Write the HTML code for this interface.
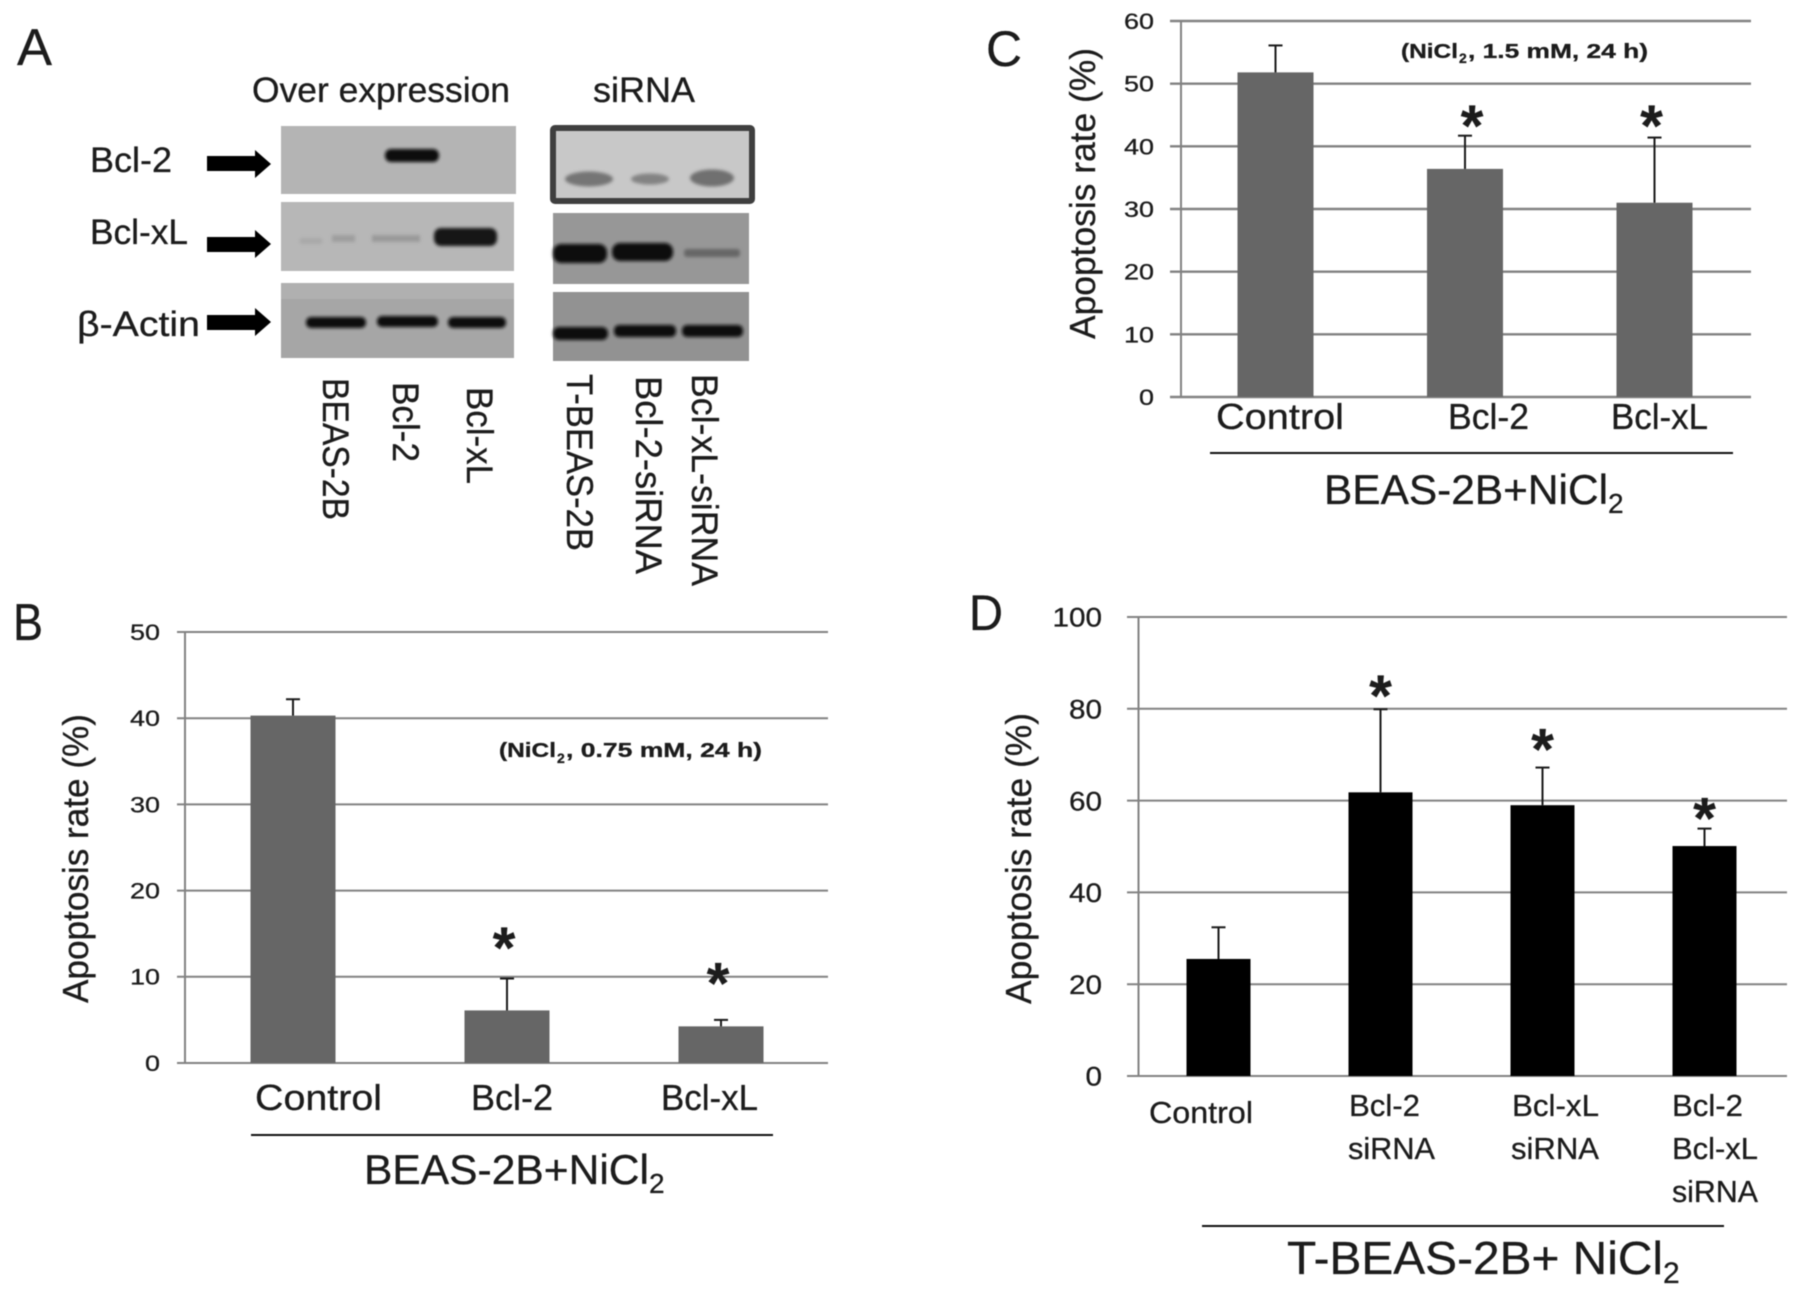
<!DOCTYPE html>
<html lang="en">
<head>
<meta charset="utf-8">
<title>Apoptosis rate and Bcl-2 / Bcl-xL expression</title>
<style>
html,body{margin:0;padding:0;background:#fff;width:1795px;height:1294px;overflow:hidden}
svg{display:block;filter:blur(.5px)}
text{font-family:"Liberation Sans",Arial,sans-serif;fill:#1c1c1c;stroke:#1c1c1c;stroke-width:.3px}
</style>
</head>
<body>
<svg id="figure" xmlns="http://www.w3.org/2000/svg" width="1795" height="1294" viewBox="0 0 1795 1294">
<defs>
<filter id="b3" x="-30%" y="-80%" width="160%" height="260%"><feGaussianBlur stdDeviation="2.6"/></filter>
<filter id="b1" x="-30%" y="-80%" width="160%" height="260%"><feGaussianBlur stdDeviation="1.5"/></filter>
</defs>
<rect width="1795" height="1294" fill="#fff"/>

<g id="panel-a">
<text x="17" y="65" font-size="52" textLength="35" lengthAdjust="spacingAndGlyphs">A</text>
<text x="252" y="102" font-size="35" textLength="258" lengthAdjust="spacingAndGlyphs">Over expression</text>
<text x="593" y="102" font-size="35" textLength="102" lengthAdjust="spacingAndGlyphs">siRNA</text>
<text x="90" y="172" font-size="35" textLength="82" lengthAdjust="spacingAndGlyphs">Bcl-2</text>
<text x="90" y="244" font-size="35" textLength="98" lengthAdjust="spacingAndGlyphs">Bcl-xL</text>
<text x="77" y="336" font-size="35" textLength="123" lengthAdjust="spacingAndGlyphs">β-Actin</text>

<polygon points="207,156 255,156 255,150 271,164 255,178 255,171 207,171" fill="#000"/>
<polygon points="207,237 255,237 255,230 271,244 255,258 255,252 207,252" fill="#000"/>
<polygon points="207,315 255,315 255,308 271,322 255,336 255,330 207,330" fill="#000"/>

<g>
<rect x="281" y="126" width="235" height="68" fill="#b4b4b4"/>
<rect x="385" y="149" width="54" height="13" rx="6" fill="#0e0e0e" filter="url(#b1)"/>
</g>
<g>
<rect x="281" y="202" width="233" height="69" fill="#b7b7b7"/>
<rect x="300" y="238" width="22" height="6" fill="#a9a9a9" filter="url(#b1)"/>
<rect x="332" y="235" width="23" height="7" fill="#9e9e9e" filter="url(#b1)"/>
<rect x="372" y="235" width="48" height="7" fill="#9a9a9a" filter="url(#b1)"/>
<rect x="434" y="228" width="63" height="18" rx="7" fill="#161616" filter="url(#b1)"/>
</g>
<g>
<rect x="281" y="283" width="233" height="75" fill="#a6a6a6"/>
<rect x="281" y="283" width="233" height="16" fill="#b0b0b0"/>
<rect x="306" y="317" width="60" height="11" rx="5" fill="#0f0f0f" filter="url(#b1)"/>
<rect x="377" y="316" width="61" height="11" rx="5" fill="#0f0f0f" filter="url(#b1)"/>
<rect x="448" y="317" width="58" height="11" rx="5" fill="#0f0f0f" filter="url(#b1)"/>
</g>
<g>
<rect x="553" y="128" width="199" height="73" rx="2" fill="#c8c8c8" stroke="#3f3f3f" stroke-width="6"/>
<ellipse cx="589" cy="179" rx="24" ry="7.5" fill="#747474" filter="url(#b1)"/>
<ellipse cx="650" cy="179" rx="19" ry="5.5" fill="#838383" filter="url(#b1)"/>
<ellipse cx="712" cy="178" rx="22" ry="8.5" fill="#707070" filter="url(#b1)"/>
</g>
<g>
<rect x="553" y="213" width="196" height="71" fill="#979797"/>
<rect x="553" y="244" width="54" height="19" rx="8" fill="#111" filter="url(#b1)"/>
<rect x="612" y="243" width="61" height="18" rx="8" fill="#111" filter="url(#b1)"/>
<rect x="684" y="249" width="56" height="8" rx="3" fill="#666" filter="url(#b1)"/>
</g>
<g>
<rect x="553" y="292" width="196" height="69" fill="#929292"/>
<rect x="553" y="327" width="55" height="13" rx="6" fill="#101010" filter="url(#b1)"/>
<rect x="614" y="325" width="62" height="12" rx="5" fill="#101010" filter="url(#b1)"/>
<rect x="682" y="325" width="61" height="12" rx="5" fill="#101010" filter="url(#b1)"/>
</g>

<text transform="translate(323,378) rotate(90)" font-size="37" textLength="142" lengthAdjust="spacingAndGlyphs">BEAS-2B</text>
<text transform="translate(393,382) rotate(90)" font-size="37" textLength="80" lengthAdjust="spacingAndGlyphs">Bcl-2</text>
<text transform="translate(467,387) rotate(90)" font-size="37" textLength="97" lengthAdjust="spacingAndGlyphs">Bcl-xL</text>
<text transform="translate(567,374) rotate(90)" font-size="37" textLength="177" lengthAdjust="spacingAndGlyphs">T-BEAS-2B</text>
<text transform="translate(636,376) rotate(90)" font-size="37" textLength="198" lengthAdjust="spacingAndGlyphs">Bcl-2-siRNA</text>
<text transform="translate(692,374) rotate(90)" font-size="37" textLength="212" lengthAdjust="spacingAndGlyphs">Bcl-xL-siRNA</text>
</g>

<g id="panel-b">
<text x="13" y="640" font-size="52" textLength="30" lengthAdjust="spacingAndGlyphs">B</text>
<text transform="translate(88,1003) rotate(-90)" font-size="36" textLength="289" lengthAdjust="spacingAndGlyphs">Apoptosis rate (%)</text>
<text x="499" y="757" font-size="20" font-weight="700" textLength="57" lengthAdjust="spacingAndGlyphs">(NiCl</text>
<text x="557" y="763" font-size="14" font-weight="700">2</text>
<text x="566" y="757" font-size="20" font-weight="700" textLength="196" lengthAdjust="spacingAndGlyphs">, 0.75 mM, 24 h)</text>
<text x="255" y="1110" font-size="36" textLength="127" lengthAdjust="spacingAndGlyphs">Control</text>
<text x="471" y="1110" font-size="36" textLength="82" lengthAdjust="spacingAndGlyphs">Bcl-2</text>
<text x="661" y="1110" font-size="36" textLength="97" lengthAdjust="spacingAndGlyphs">Bcl-xL</text>
<rect x="251" y="1134" width="522" height="2" fill="#111"/>
<text x="364" y="1184" font-size="42" textLength="285" lengthAdjust="spacingAndGlyphs">BEAS-2B+NiCl</text>
<text x="649" y="1193" font-size="28">2</text>
</g>

<g id="panel-c">
<text x="986" y="66" font-size="50" textLength="36" lengthAdjust="spacingAndGlyphs">C</text>
<text transform="translate(1095,339) rotate(-90)" font-size="36" textLength="291" lengthAdjust="spacingAndGlyphs">Apoptosis rate (%)</text>
<text x="1401" y="58" font-size="20" font-weight="700" textLength="57" lengthAdjust="spacingAndGlyphs">(NiCl</text>
<text x="1459" y="63" font-size="14" font-weight="700">2</text>
<text x="1468" y="58" font-size="20" font-weight="700" textLength="180" lengthAdjust="spacingAndGlyphs">, 1.5 mM, 24 h)</text>
<text x="1216" y="429" font-size="36" textLength="128" lengthAdjust="spacingAndGlyphs">Control</text>
<text x="1448" y="429" font-size="36" textLength="81" lengthAdjust="spacingAndGlyphs">Bcl-2</text>
<text x="1611" y="429" font-size="36" textLength="97" lengthAdjust="spacingAndGlyphs">Bcl-xL</text>
<rect x="1210" y="452" width="523" height="2" fill="#111"/>
<text x="1324" y="504" font-size="42" textLength="284" lengthAdjust="spacingAndGlyphs">BEAS-2B+NiCl</text>
<text x="1608" y="513" font-size="28">2</text>
</g>

<g id="panel-d">
<text x="969" y="630" font-size="50" textLength="34" lengthAdjust="spacingAndGlyphs">D</text>
<text transform="translate(1031,1004) rotate(-90)" font-size="36" textLength="291" lengthAdjust="spacingAndGlyphs">Apoptosis rate (%)</text>
<text x="1149" y="1123" font-size="31" textLength="104" lengthAdjust="spacingAndGlyphs">Control</text>
<text x="1349" y="1116" font-size="31" textLength="71" lengthAdjust="spacingAndGlyphs">Bcl-2</text>
<text x="1348" y="1159" font-size="31" textLength="87" lengthAdjust="spacingAndGlyphs">siRNA</text>
<text x="1512" y="1116" font-size="31" textLength="87" lengthAdjust="spacingAndGlyphs">Bcl-xL</text>
<text x="1511" y="1159" font-size="31" textLength="88" lengthAdjust="spacingAndGlyphs">siRNA</text>
<text x="1672" y="1116" font-size="31" textLength="71" lengthAdjust="spacingAndGlyphs">Bcl-2</text>
<text x="1672" y="1159" font-size="31" textLength="86" lengthAdjust="spacingAndGlyphs">Bcl-xL</text>
<text x="1672" y="1202" font-size="31" textLength="86" lengthAdjust="spacingAndGlyphs">siRNA</text>
<rect x="1202" y="1225" width="522" height="2" fill="#111"/>
<text x="1287" y="1274" font-size="46" textLength="376" lengthAdjust="spacingAndGlyphs">T-BEAS-2B+  NiCl</text>
<text x="1663" y="1283" font-size="30">2</text>
</g>
</svg>

<script>
// Panel B values
const bCategories = ['Control', 'Bcl-2', 'Bcl-xL'];
const bMeans = [40.3, 6.1, 4.25];
const bUpper = [42.2, 9.8, 5.0];
const bStarLevels = [null, 14.6, 10.5];
const bTicks = [0, 10, 20, 30, 40, 50];

// Panel C values
const cCategories = ['Control', 'Bcl-2', 'Bcl-xL'];
const cMeans = [51.8, 36.4, 31.0];
const cUpper = [56.1, 41.7, 41.4];
const cStarLevels = [null, 45.0, 45.0];
const cTicks = [0, 10, 20, 30, 40, 50, 60];

// Panel D values
const dCategories = ['Control', 'Bcl-2 siRNA', 'Bcl-xL siRNA', 'Bcl-2 Bcl-xL siRNA'];
const dMeans = [25.5, 61.8, 59.0, 50.1];
const dUpper = [32.4, 79.9, 67.2, 53.9];
const dStarLevels = [null, 85.2, 73.5, 58.5];
const dTicks = [0, 20, 40, 60, 80, 100];

const SVG_NS = 'http://www.w3.org/2000/svg';

function addShape(parent, tag, name, attrs) {
  const el = document.createElementNS(SVG_NS, tag);
  
  
  Object.keys(attrs).forEach(function (k) { el.setAttribute(k, attrs[k]); });
  parent.appendChild(el);
  return el;
}

function drawChart(o) {
  const root = document.getElementById(o.id);
  const maxTick = o.ticks[o.ticks.length - 1];
  const yScale = function (v) { return o.y0 - (v / maxTick) * (o.y0 - o.yTop); };
  const xScale = function (i) { return o.firstCenter + i * o.step; };

  const layer = document.createElementNS(SVG_NS, 'g');
  root.insertBefore(layer, root.firstChild);

  o.ticks.forEach(function (t) {
    const yy = yScale(t);
    addShape(layer, 'line', o.prefix + '-gridline-' + t, {
      x1: o.gridLeft, x2: o.gridRight, y1: yy, y2: yy,
      stroke: '#828282', 'stroke-width': o.gridWidth
    });
    const label = String(t);
    const w = label.length * o.digitWidth;
    const tick = addShape(layer, 'text', o.prefix + '-tick-label-' + t, {
      x: o.tickRight - w, y: yy + o.tickSize * 0.36,
      'font-size': o.tickSize, textLength: w, lengthAdjust: 'spacingAndGlyphs'
    });
    tick.textContent = label;
  });

  addShape(layer, 'line', o.prefix + '-y-axis', {
    x1: o.axisX, x2: o.axisX, y1: o.yTop, y2: o.y0,
    stroke: '#828282', 'stroke-width': 2
  });

  o.means.forEach(function (m, i) {
    const cx = xScale(i);
    const key = o.categories[i].toLowerCase().replace(/[^a-z0-9]+/g, '-');
    addShape(layer, 'rect', o.prefix + '-bar-' + key, {
      x: cx - o.barWidth / 2, y: yScale(m),
      width: o.barWidth, height: yScale(0) - yScale(m),
      fill: o.barColor
    });
    addShape(layer, 'line', o.prefix + '-error-stem-' + key, {
      x1: cx, x2: cx, y1: yScale(m), y2: yScale(o.upper[i]),
      stroke: '#1a1a1a', 'stroke-width': 2
    });
    addShape(layer, 'line', o.prefix + '-error-cap-' + key, {
      x1: cx - 7, x2: cx + 7, y1: yScale(o.upper[i]), y2: yScale(o.upper[i]),
      stroke: '#1a1a1a', 'stroke-width': 2
    });
    if (o.stars[i] !== null) {
      const star = addShape(layer, 'text', o.prefix + '-significance-star-' + key, {
        x: cx + o.starNudge[i], y: yScale(o.stars[i]) + 31, 'font-size': 58,
        'font-weight': 700, 'text-anchor': 'middle'
      });
      star.textContent = '*';
    }
  });
}

drawChart({
  id: 'panel-b', prefix: 'panel-b',
  categories: bCategories, means: bMeans, upper: bUpper, stars: bStarLevels, ticks: bTicks,
  y0: 1063, yTop: 632, axisX: 185, gridLeft: 177, gridRight: 828, gridWidth: 2,
  firstCenter: 293, step: 214, barWidth: 85, barColor: '#666666',
  tickRight: 160, tickSize: 22, digitWidth: 15, starNudge: [0, -3, -3]
});

drawChart({
  id: 'panel-c', prefix: 'panel-c',
  categories: cCategories, means: cMeans, upper: cUpper, stars: cStarLevels, ticks: cTicks,
  y0: 397, yTop: 21, axisX: 1181, gridLeft: 1170, gridRight: 1751, gridWidth: 2.4,
  firstCenter: 1275.5, step: 189.5, barWidth: 76, barColor: '#666666',
  tickRight: 1154, tickSize: 22, digitWidth: 15, starNudge: [0, 7, -3]
});

drawChart({
  id: 'panel-d', prefix: 'panel-d',
  categories: dCategories, means: dMeans, upper: dUpper, stars: dStarLevels, ticks: dTicks,
  y0: 1076, yTop: 617, axisX: 1138.5, gridLeft: 1127, gridRight: 1787, gridWidth: 2,
  firstCenter: 1218.5, step: 162, barWidth: 64, barColor: '#000000',
  tickRight: 1102, tickSize: 27, digitWidth: 16.5, starNudge: [0, 0, 0, 0]
});
</script>
</body>
</html>
